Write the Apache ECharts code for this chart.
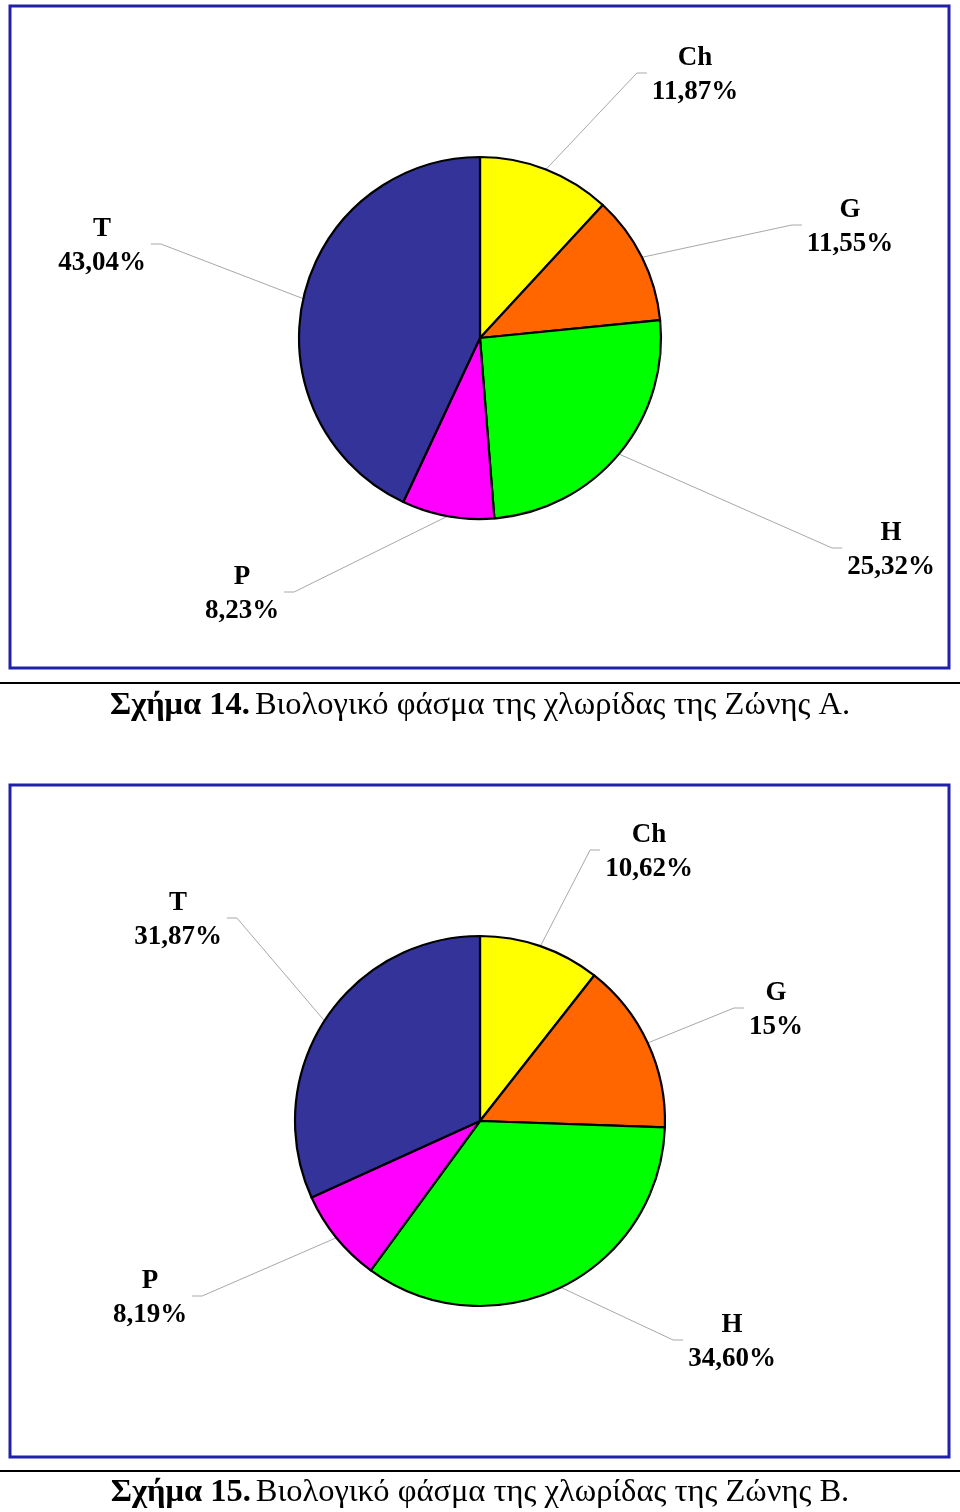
<!DOCTYPE html>
<html><head><meta charset="utf-8">
<script src="https://cdn.jsdelivr.net/npm/echarts@6/dist/echarts.min.js"></script>
<style>html,body{margin:0;padding:0;background:#fff}#c{width:960px;height:1512px}</style>
</head><body><div id="c"></div>
<script>
// ---- data ----
const categories = ['Ch', 'G', 'H', 'P', 'T'];
const valuesA = [11.87, 11.55, 25.32, 8.23, 43.04];
const valuesB = [10.62, 15, 34.60, 8.19, 31.87];
const captionHeadA = 'Σχήμα 14.';
const captionTextA = 'Βιολογικό φάσμα της χλωρίδας της Ζώνης Α.';
const captionHeadB = 'Σχήμα 15.';
const captionTextB = 'Βιολογικό φάσμα της χλωρίδας της Ζώνης Β.';

// ---- styles / layout ----
const colors = ['#FFFF00', '#FF6600', '#00FF00', '#FF00FF', '#333399'];
const pieA = { cx: 480, cy: 338, r: 181 };
const pieB = { cx: 480, cy: 1121, r: 185 };
const labelPosA = [[695, 75], [850, 227], [891, 550], [242, 594], [102, 246]];
const labelPosB = [[649, 852], [776, 1010], [732, 1342], [150, 1298], [178, 920]];
const serif = '"Liberation Serif", "Times New Roman", serif';

function fmt(v) {
  return (Number.isInteger(v) ? String(v) : v.toFixed(2).replace('.', ',')) + '%';
}

function anchors(vals, pie) {
  const total = vals.reduce((a, b) => a + b, 0);
  let cum = 0;
  return vals.map(v => {
    const mid = (cum + v / 2) / total * 2 * Math.PI;
    cum += v;
    return [pie.cx + pie.r * Math.sin(mid), pie.cy - pie.r * Math.cos(mid)];
  });
}

function makeLayout(vals, pie, pos) {
  const starts = anchors(vals, pie);
  return function (params) {
    const i = params.dataIndex;
    const p = pos[i];
    const w = params.labelRect.width;
    const right = p[0] > pie.cx;
    const ly = p[1] - 2;
    const ex = right ? p[0] - w / 2 - 5 : p[0] + w / 2 + 5;
    const bx = right ? ex - 10 : ex + 10;
    return {
      x: p[0], y: p[1], align: 'center', verticalAlign: 'middle',
      labelLinePoints: [starts[i], [bx, ly], [ex, ly]]
    };
  };
}

function pieSeries(vals, pie, pos) {
  return {
    type: 'pie',
    center: [pie.cx, pie.cy],
    radius: pie.r,
    startAngle: 90,
    clockwise: true,
    avoidLabelOverlap: false,
    silent: true,
    emphasis: { disabled: true },
    data: categories.map((c, i) => ({ name: c, value: vals[i], itemStyle: { color: colors[i] } })),
    itemStyle: { borderColor: '#000', borderWidth: 2.2 },
    label: {
      show: true,
      formatter: p => p.name + '\n' + fmt(p.value),
      fontFamily: serif, fontWeight: 'bold', fontSize: 27, lineHeight: 34,
      color: '#000', align: 'center'
    },
    labelLine: { show: true, length: 20, length2: 10, lineStyle: { color: '#A8A8A8', width: 1 } },
    labelLayout: makeLayout(vals, pie, pos)
  };
}

function caption(head, text, top) {
  return {
    text: '{b|' + head + '} {n|' + text + '}',
    left: 'center', top: top, padding: 0,
    textStyle: {
      rich: {
        b: { fontFamily: serif, fontWeight: 'bold', fontSize: 32.5, color: '#000' },
        n: { fontFamily: serif, fontWeight: 'normal', fontSize: 32.5, color: '#000' }
      }
    }
  };
}

const chart = echarts.init(document.getElementById('c'), null, { renderer: 'canvas' });
chart.setOption({
  backgroundColor: '#fff',
  animation: false,
  title: [caption(captionHeadA, captionTextA, 689), caption(captionHeadB, captionTextB, 1476)],
  graphic: [
    { type: 'rect', shape: { x: 10, y: 6, width: 939, height: 662 }, style: { fill: null, stroke: '#2020A8', lineWidth: 3 }, z: -1 },
    { type: 'rect', shape: { x: 10, y: 785, width: 939, height: 672 }, style: { fill: null, stroke: '#2020A8', lineWidth: 3 }, z: -1 },
    { type: 'line', shape: { x1: 0, y1: 683, x2: 960, y2: 683 }, style: { stroke: '#000', lineWidth: 2 } },
    { type: 'line', shape: { x1: 0, y1: 1471, x2: 960, y2: 1471 }, style: { stroke: '#000', lineWidth: 2 } }
  ],
  series: [pieSeries(valuesA, pieA, labelPosA), pieSeries(valuesB, pieB, labelPosB)]
});
</script>
</body></html>
